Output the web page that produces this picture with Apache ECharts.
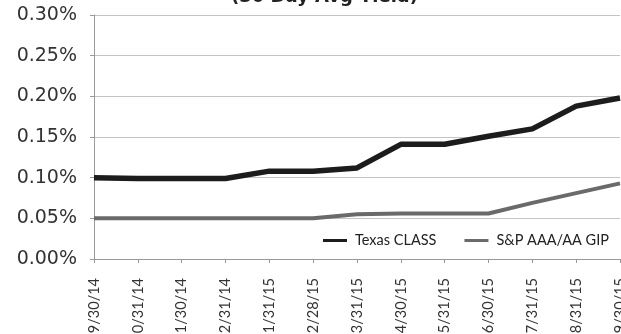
<!DOCTYPE html>
<html>
<head>
<meta charset="utf-8">
<script src="https://cdn.jsdelivr.net/npm/echarts@6/dist/echarts.min.js"></script>
<style>
  html, body { margin: 0; padding: 0; background: #fff; }
  #chart { width: 621px; height: 334px; }
</style>
</head>
<body>
<div id="chart"></div>
<script>
// Month-end dates
const months = ['9/30/14', '10/31/14', '11/30/14', '12/31/14', '1/31/15', '2/28/15',
  '3/31/15', '4/30/15', '5/31/15', '6/30/15', '7/31/15', '8/31/15', '9/30/15'];

// 30-day average yields, in percent
const texasClass = [0.100, 0.099, 0.099, 0.099, 0.108, 0.108, 0.112, 0.141, 0.141, 0.151, 0.160, 0.188, 0.198];
const spGip = [0.050, 0.050, 0.050, 0.050, 0.050, 0.050, 0.055, 0.056, 0.056, 0.056, 0.069, 0.081, 0.093];

const chart = echarts.init(document.getElementById('chart'), null, { renderer: 'canvas' });

chart.setOption({
  animation: false,
  backgroundColor: '#ffffff',
  title: {
    text: '(30 Day Avg Yield)',
    left: 226,
    top: -17,
    textStyle: { fontFamily: 'DejaVu Sans', fontSize: 18, fontWeight: 'bold', color: '#222' }
  },
  grid: { left: 94, right: 1, top: 15, bottom: 75, outerBoundsMode: 'none', containLabel: false },
  legend: {
    left: 317,
    top: 230,
    itemWidth: 24,
    itemHeight: 3,
    itemGap: 28,
    icon: 'rect',
    backgroundColor: '#ffffff',
    padding: [3, 6],
    textStyle: { fontFamily: 'Lato', fontSize: 14.5, color: '#222', padding: [0, 0, 0, 3] },
    data: ['Texas CLASS', 'S&P AAA/AA GIP']
  },
  xAxis: {
    type: 'category',
    data: months,
    boundaryGap: false,
    axisLine: { lineStyle: { color: '#999', width: 1 } },
    axisTick: { show: true, alignWithLabel: true, length: 4, lineStyle: { color: '#999' } },
    axisLabel: {
      rotate: 90,
      margin: 19,
      interval: 0,
      fontFamily: 'Lato',
      fontSize: 14.5,
      color: '#333'
    }
  },
  yAxis: {
    type: 'value',
    min: 0,
    max: 0.30,
    interval: 0.05,
    axisLine: { show: true, lineStyle: { color: '#999', width: 1 } },
    axisTick: { show: true, length: 4, lineStyle: { color: '#999' } },
    splitLine: { lineStyle: { color: '#c4c4c4', width: 1 } },
    axisLabel: {
      margin: 17,
      fontFamily: 'DejaVu Sans',
      fontSize: 19,
      color: '#333',
      padding: [4, 0, 0, 0],
      formatter: v => v.toFixed(2) + '%'
    }
  },
  series: [
    {
      name: 'Texas CLASS',
      type: 'line',
      data: texasClass,
      symbol: 'none',
      lineStyle: { color: '#1c1c1c', width: 5.5 },
      itemStyle: { color: '#1c1c1c' },
      z: 3
    },
    {
      name: 'S&P AAA/AA GIP',
      type: 'line',
      data: spGip,
      symbol: 'none',
      lineStyle: { color: '#6a6a6a', width: 4 },
      itemStyle: { color: '#6a6a6a' },
      z: 2
    }
  ]
});
</script>
</body>
</html>
